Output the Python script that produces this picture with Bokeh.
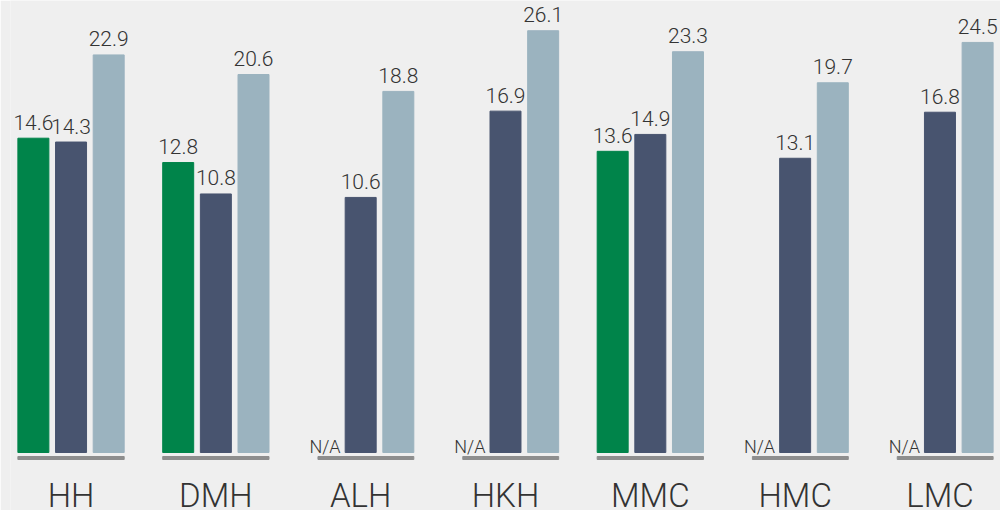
import math
from bokeh.plotting import figure
from bokeh.models import ColumnDataSource, FactorRange, Range1d
from bokeh.transform import dodge
from bokeh.core.properties import value
from bokeh.embed import file_html
from bokeh.resources import INLINE

# ---- data -------------------------------------------------------------
groups = ["HH", "DMH", "ALH", "HKH", "MMC", "HMC", "LMC"]
series_green = [14.6, 12.8, None, None, 13.6, None, None]
series_navy = [14.3, 10.8, 10.6, 16.9, 14.9, 13.1, 16.8]
series_grey = [22.9, 20.6, 18.8, 26.1, 23.3, 19.7, 24.5]
missing_label = "N/A"

# ---- style ------------------------------------------------------------
COLORS = ["#00844a", "#48546f", "#9bb3bf"]
OFFSETS = [-0.26, 0.0, 0.26]
BAR_W = 0.214
TEXT_COLOR = "#333333"
BG = "#efefef"
FONT = value("Roboto Light, Roboto, sans-serif")

W, H = 1000, 510
LEFT = 10
BASE = 2.67          # value at which bars start (log axis)
K = 185.0            # pixels per natural-log unit
BASE_PX = 452        # baseline distance from frame top, px


def y_below(px):
    """value located px pixels below the bar baseline"""
    return BASE * math.exp(-px / K)


y_start = y_below(H - BASE_PX)
y_end = BASE * math.exp(BASE_PX / K)

p = figure(
    x_range=FactorRange(factors=groups, range_padding=-0.082,
                        range_padding_units="absolute"),
    y_range=Range1d(y_start, y_end),
    y_axis_type="log",
    width=W, height=H,
    output_backend="svg", toolbar_location=None,
    x_axis_location=None, y_axis_location=None,
    min_border=0, min_border_left=LEFT,
)
p.background_fill_color = BG
p.border_fill_color = BG
p.outline_line_color = None
p.grid.visible = False

# baseline segments under each group
full = [g for g, v in zip(groups, series_green) if v is not None]
part = [g for g, v in zip(groups, series_green) if v is None]
p.rect(x="g", y=y_below(5.5), width=0.734, height=3, height_units="screen",
       color="#8e8e8e", source=ColumnDataSource(dict(g=full)))
p.rect(x=dodge("g", 0.036, range=p.x_range), y=y_below(5.5), width=0.662,
       height=3, height_units="screen", color="#8e8e8e",
       source=ColumnDataSource(dict(g=part)))

# bars + labels
for vals, col, off in zip([series_green, series_navy, series_grey], COLORS, OFFSETS):
    g = [gg for gg, v in zip(groups, vals) if v is not None]
    v = [vv for vv in vals if vv is not None]
    src = ColumnDataSource(dict(g=g, v=v, t=[f"{x:.1f}" for x in v]))
    p.vbar(x=dodge("g", off, range=p.x_range), top="v", bottom=BASE,
           width=BAR_W, color=col, source=src)
    p.text(x=dodge("g", off, range=p.x_range), y="v", text="t", source=src,
           y_offset=-16, text_align="center", text_baseline="alphabetic",
           text_font=FONT, text_font_size="21px", text_color=TEXT_COLOR)

# N/A markers
na_src = ColumnDataSource(dict(g=part, t=[missing_label] * len(part)))
p.text(x=dodge("g", OFFSETS[0], range=p.x_range), y=BASE, text="t",
       source=na_src, x_offset=2, y_offset=-6, text_align="center",
       text_baseline="alphabetic", text_font=FONT, text_font_size="18px",
       text_color=TEXT_COLOR)

# category labels
cat_src = ColumnDataSource(dict(g=groups))
p.text(x="g", y=y_below(56), text="g", source=cat_src, text_align="center",
       y_offset=-13, text_baseline="alphabetic", text_font=FONT,
       text_font_size="33px", text_color=TEXT_COLOR)

open("out.html", "w").write(file_html(p, INLINE))
